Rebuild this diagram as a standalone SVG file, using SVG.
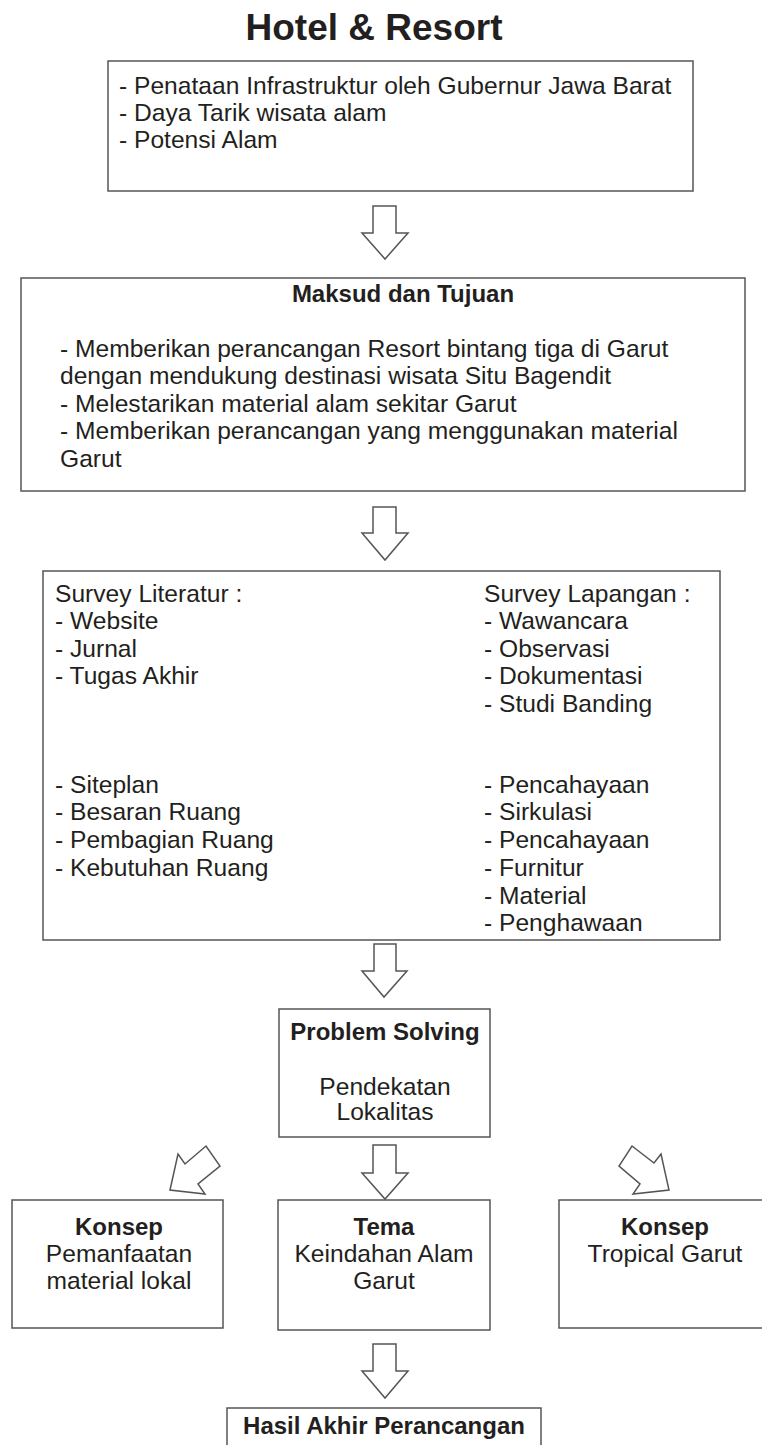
<svg xmlns="http://www.w3.org/2000/svg" width="762" height="1445" viewBox="0 0 762 1445">
<style>
.box{fill:#fff;stroke:#555;stroke-width:1.5}
.arr{fill:#fff;stroke:#555;stroke-width:1.5;stroke-linejoin:miter}
text{font-family:"Liberation Sans",Arial,sans-serif;fill:#231f20}
.t{font-size:24.6px}
.b{font-size:24px;font-weight:bold}
.c{text-anchor:middle}
</style>
<rect width="762" height="1445" fill="#fff"/>
<text x="374" y="40" class="c" style="font-size:37px;font-weight:bold">Hotel &amp; Resort</text>

<g id="connectors">
<polygon class="arr" points="373,206 396,206 396,233 408,233 385,259 362,233 373,233"/>
<polygon class="arr" points="373,507 396,507 396,533 408,533 385,560 362,533 373,533"/>
<polygon class="arr" points="314,677 318,643 326,651 346,633 361,650 342,667 349,677"/>
<polygon class="arr" points="428,632 446,652 454,643 455,679 420,674 428,667 411,647"/>
<polygon class="arr" points="314,876 318,842 326,850 346,832 361,849 342,866 349,876"/>
<polygon class="arr" points="428,831 446,851 454,842 455,878 420,873 428,866 411,846"/>
<polygon class="arr" points="374,944 396,944 396,971 407,971 384,997 362,971 374,971"/>
<polygon class="arr" points="170,1190 178,1154 185,1164 206,1146 220,1166 198,1184 205,1194"/>
<polygon class="arr" points="373,1145 396,1145 396,1173 408,1173 385,1199 362,1173 373,1173"/>
<polygon class="arr" points="632,1146 654,1163 661,1154 669,1190 633,1194 640,1184 619,1166"/>
<polygon class="arr" points="373,1344 396,1344 396,1371 408,1371 385,1398 362,1371 373,1371"/>
</g>

<g id="latar">
<rect class="box" x="108" y="61" width="585" height="130"/>
<text class="t" x="119" y="94">- Penataan Infrastruktur oleh Gubernur Jawa Barat</text>
<text class="t" x="119" y="121">- Daya Tarik wisata alam</text>
<text class="t" x="119" y="148">- Potensi Alam</text>
</g>

<g id="maksud">
<rect class="box" x="21" y="278" width="724" height="213"/>
<text class="b c" x="403" y="302">Maksud dan Tujuan</text>
<text class="t" x="60" y="357">- Memberikan perancangan Resort bintang tiga di Garut</text>
<text class="t" x="60" y="384">dengan mendukung destinasi wisata Situ Bagendit</text>
<text class="t" x="60" y="412">- Melestarikan material alam sekitar Garut</text>
<text class="t" x="60" y="439">- Memberikan perancangan yang menggunakan material</text>
<text class="t" x="60" y="467">Garut</text>
</g>

<g id="survey">
<rect class="box" x="43" y="571" width="677" height="369"/>
<text class="t" x="55" y="602">Survey Literatur :</text>
<text class="t" x="55" y="629">- Website</text>
<text class="t" x="55" y="657">- Jurnal</text>
<text class="t" x="55" y="684">- Tugas Akhir</text>
<text class="t" x="55" y="793">- Siteplan</text>
<text class="t" x="55" y="820">- Besaran Ruang</text>
<text class="t" x="55" y="848">- Pembagian Ruang</text>
<text class="t" x="55" y="876">- Kebutuhan Ruang</text>
<text class="t" x="484" y="602">Survey Lapangan :</text>
<text class="t" x="484" y="629">- Wawancara</text>
<text class="t" x="484" y="657">- Observasi</text>
<text class="t" x="484" y="684">- Dokumentasi</text>
<text class="t" x="484" y="712">- Studi Banding</text>
<text class="t" x="484" y="793">- Pencahayaan</text>
<text class="t" x="484" y="820">- Sirkulasi</text>
<text class="t" x="484" y="848">- Pencahayaan</text>
<text class="t" x="484" y="876">- Furnitur</text>
<text class="t" x="484" y="904">- Material</text>
<text class="t" x="484" y="931">- Penghawaan</text>
</g>

<g id="problem">
<rect class="box" x="279" y="1009" width="211" height="128"/>
<text class="b c" x="385" y="1040">Problem Solving</text>
<text class="t c" x="385" y="1095">Pendekatan</text>
<text class="t c" x="385" y="1120">Lokalitas</text>
</g>

<g id="konsep1">
<rect class="box" x="12" y="1200" width="211" height="128"/>
<text class="b c" x="119" y="1235">Konsep</text>
<text class="t c" x="119" y="1262">Pemanfaatan</text>
<text class="t c" x="119" y="1289">material lokal</text>
</g>

<g id="tema">
<rect class="box" x="278" y="1200" width="212" height="130"/>
<text class="b c" x="384" y="1235">Tema</text>
<text class="t c" x="384" y="1262">Keindahan Alam</text>
<text class="t c" x="384" y="1289">Garut</text>
</g>

<g id="konsep2">
<rect class="box" x="559" y="1200" width="215" height="128"/>
<text class="b c" x="665" y="1235">Konsep</text>
<text class="t c" x="665" y="1262">Tropical Garut</text>
</g>

<g id="hasil">
<rect class="box" x="227" y="1408" width="314" height="50"/>
<text class="b c" x="384" y="1434">Hasil Akhir Perancangan</text>
</g>
</svg>
